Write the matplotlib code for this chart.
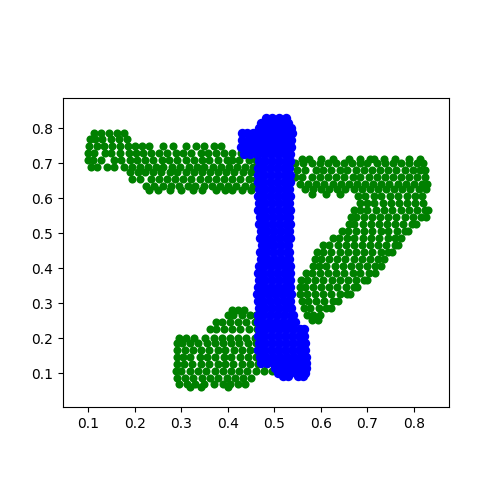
import matplotlib
matplotlib.use("Agg")
import matplotlib.pyplot as plt

# Positions, grouped in horizontal rows: (y, [x, ...])
green_rows = [
 (.785, [.112,.128,.145,.163,.178]),
 (.77, [.104,.114,.131,.149,.166,.183]),
 (.75, [.103,.119,.134,.152,.169,.185,.2,.215,.232,.26,.283,.31,.332,.35,.37,.385]),
 (.73, [.099,.113,.136,.15,.168,.187,.202,.219,.236,.252,.27,.289,.305,.321,.342,.358,.375,.392,.41,.428,.445]),
 (.71, [.099,.11,.128,.155,.17,.19,.206,.222,.24,.258,.273,.292,.31,.327,.345,.36,.38,.398,.41,.425,.445,.46]),
 (.69, [.106,.12,.14,.155,.178,.195,.212,.228,.245,.262,.28,.298,.316,.334,.35,.368,.385,.402,.42,.438,.455]),
 (.675, [.19,.207,.223,.24,.257,.275,.292,.31,.328,.345,.362,.38,.397,.414,.432,.45,.465]),
 (.655, [.195,.212,.235,.252,.27,.286,.304,.322,.34,.357,.374,.392,.41,.427,.445,.46]),
 (.635, [.225,.242,.26,.278,.296,.314,.33,.348,.366,.384,.4,.418,.436,.455]),
 (.622, [.23,.25,.275,.3,.325,.345,.375,.395,.41,.43,.45]),
 (.712, [.56,.575,.60,.625,.66,.685,.705,.715,.735,.76,.79,.812]),
 (.70, [.545,.562,.58,.597,.615,.632,.65,.667,.685,.70,.72,.737,.755,.772,.79,.806,.82]),
 (.68, [.548,.565,.59,.605,.622,.64,.657,.675,.692,.71,.727,.744,.762,.78,.797,.813,.824]),
 (.66, [.545,.56,.58,.598,.615,.633,.65,.668,.685,.703,.72,.738,.755,.772,.79,.807,.824]),
 (.64, [.555,.572,.59,.607,.625,.643,.66,.678,.695,.712,.73,.747,.765,.782,.8,.817,.828]),
 (.625, [.565,.583,.6,.618,.635,.652,.67,.688,.705,.722,.74,.757,.775,.792,.81,.826]),
 (.612, [.58,.61,.64]),
 (.605, [.68,.695,.713,.73,.748,.766,.784,.801,.818]),
 (.585, [.685,.698,.715,.733,.75,.768,.785,.803,.82]),
 (.565, [.672,.683,.7,.718,.736,.753,.771,.789,.806,.824,.83]),
 (.545, [.665,.675,.692,.71,.727,.745,.762,.78,.797,.815,.826]),
 (.525, [.66,.672,.69,.707,.725,.742,.76,.777,.795,.805]),
 (.505, [.645,.658,.675,.692,.71,.728,.745,.763,.78,.788]),
 (.485, [.625,.638,.655,.672,.69,.708,.725,.743,.76,.772]),
 (.465, [.605,.618,.636,.654,.67,.688,.706,.723,.74,.758,.766]),
 (.445, [.592,.605,.622,.64,.658,.675,.693,.71,.728,.745,.752]),
 (.425, [.587,.6,.617,.635,.652,.67,.688,.705,.722,.736]),
 (.405, [.582,.595,.612,.63,.647,.665,.682,.7,.717,.73]),
 (.385, [.567,.58,.598,.615,.633,.65,.668,.685,.703,.716]),
 (.365, [.557,.57,.588,.605,.623,.64,.658,.675,.693,.7]),
 (.345, [.555,.565,.583,.6,.618,.635,.653,.67,.678]),
 (.325, [.556,.57,.587,.605,.622,.64,.655,.662]),
 (.305, [.559,.572,.59,.607,.625,.636]),
 (.285, [.564,.577,.595,.612,.621]),
 (.265, [.57,.582,.597]),
 (.252, [.58,.594]),
 (.28, [.41,.422,.434]),
 (.265, [.4,.412,.43,.447,.46]),
 (.245, [.375,.388,.405,.423,.44,.458,.47]),
 (.225, [.362,.375,.392,.41,.427,.445,.462]),
 (.2, [.295,.31,.328,.352,.37,.388,.405,.423,.44,.458]),
 (.185, [.29,.302,.32,.337,.355,.373,.39,.408,.425,.443,.46]),
 (.165, [.29,.308,.325,.343,.36,.378,.395,.413,.43,.448,.462]),
 (.145, [.29,.303,.32,.34,.356,.373,.391,.408,.426,.443,.46]),
 (.125, [.29,.306,.324,.342,.36,.378,.395,.412,.43,.448,.465,.482,.5]),
 (.105, [.288,.3,.318,.336,.354,.372,.39,.407,.425,.442,.46,.477,.495,.512]),
 (.085, [.292,.308,.326,.344,.362,.38,.398,.415,.432,.45]),
 (.07, [.296,.312,.33,.35,.37,.39,.405,.422,.436]),
 (.06, [.32,.343,.4]),
]

blue_rows = [
 (.83, [.482,.495,.51,.525]),
 (.815, [.472,.486,.502,.517,.53]),
 (.80, [.468,.48,.495,.51,.525,.535]),
 (.785, [.43,.442,.455,.47,.485,.5,.515,.53,.537]),
 (.765, [.43,.445,.46,.475,.49,.505,.52,.535]),
 (.745, [.428,.44,.455,.47,.485,.5,.515,.53,.536]),
 (.725, [.434,.448,.462,.477,.492,.507,.522,.534]),
 (.705, [.467,.48,.495,.51,.525,.534]),
 (.685, [.464,.475,.49,.505,.52,.531]),
 (.665, [.466,.478,.493,.508,.523,.533]),
 (.645, [.465,.475,.49,.505,.52,.533]),
 (.625, [.468,.48,.495,.51,.525,.532]),
 (.605, [.466,.476,.491,.506,.521,.533]),
 (.585, [.468,.481,.496,.511,.526,.532]),
 (.565, [.466,.477,.492,.507,.522,.534]),
 (.545, [.47,.482,.497,.512,.527,.532]),
 (.525, [.467,.479,.494,.509,.524,.534]),
 (.505, [.472,.484,.499,.514,.529,.532]),
 (.485, [.47,.48,.495,.51,.525,.533]),
 (.465, [.473,.486,.5,.515,.53]),
 (.445, [.47,.482,.497,.512,.527,.531]),
 (.425, [.472,.485,.5,.515,.53,.532]),
 (.405, [.468,.478,.493,.508,.523,.533]),
 (.385, [.466,.476,.491,.506,.521,.533]),
 (.365, [.468,.481,.496,.511,.526,.534]),
 (.345, [.466,.477,.492,.507,.522,.534]),
 (.325, [.463,.472,.487,.502,.517,.532,.536]),
 (.305, [.464,.475,.49,.505,.52,.533]),
 (.285, [.468,.48,.495,.51,.525,.535]),
 (.265, [.466,.476,.491,.506,.521,.536,.54]),
 (.245, [.464,.474,.489,.504,.519,.534,.544]),
 (.225, [.468,.48,.495,.51,.525,.54,.555,.564]),
 (.205, [.466,.477,.492,.507,.522,.537,.552,.563]),
 (.185, [.468,.481,.496,.511,.526,.541,.556,.566]),
 (.165, [.466,.478,.493,.508,.523,.538,.553,.565]),
 (.145, [.47,.483,.498,.513,.528,.543,.558,.567]),
 (.13, [.472,.485,.5,.515,.53,.545,.56,.568]),
 (.115, [.502,.513,.528,.543,.558,.568]),
 (.10, [.508,.518,.533,.548,.563,.566]),
 (.093, [.518,.53,.55,.562]),
]

x_ticks = [.1, .2, .3, .4, .5, .6, .7, .8]
y_ticks = [.1, .2, .3, .4, .5, .6, .7, .8]

green_x = [x for y, xs in green_rows for x in xs]
green_y = [y for y, xs in green_rows for x in xs]
blue_x = [x for y, xs in blue_rows for x in xs]
blue_y = [y for y, xs in blue_rows for x in xs]

fig = plt.figure(figsize=(5, 5), dpi=100)
ax = fig.add_axes([63/500, 93/500, 386/500, 309/500])
ax.scatter(green_x, green_y, s=34, c="green", linewidths=0)
ax.scatter(blue_x, blue_y, s=46, c="blue", linewidths=0)
ax.set_xlim(.0463, .875)
ax.set_ylim(.003, .886)
ax.set_xticks(x_ticks)
ax.set_yticks(y_ticks)
fig.savefig("out.png", dpi=100)
